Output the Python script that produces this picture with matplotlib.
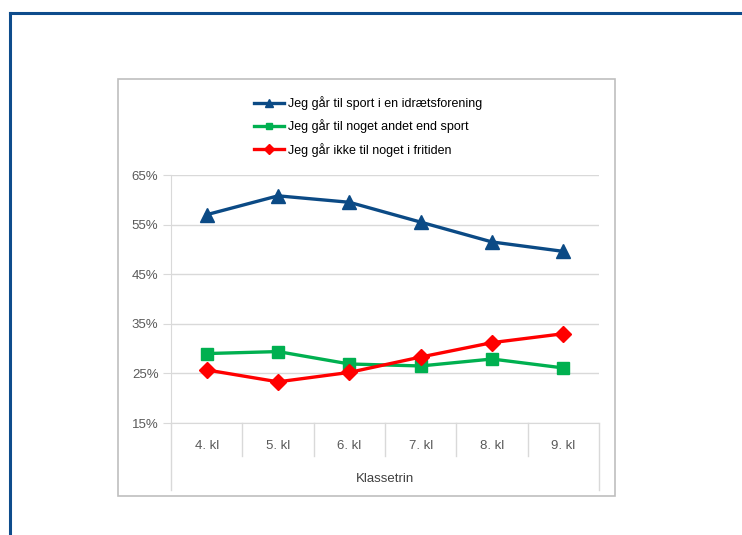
import matplotlib
matplotlib.use("Agg")
import matplotlib.pyplot as plt
from matplotlib.patches import Rectangle
from matplotlib.lines import Line2D

plt.rcParams['font.family'] = ['Liberation Sans', 'DejaVu Sans']

# data (percent)
klasser = ["4. kl", "5. kl", "6. kl", "7. kl", "8. kl", "9. kl"]
sport = [57.0, 60.8, 59.5, 55.5, 51.5, 49.6]
andet = [29.0, 29.4, 26.9, 26.5, 27.9, 26.1]
ingenting = [25.7, 23.3, 25.2, 28.3, 31.2, 33.0]
labels = ["Jeg går til sport i en idrætsforening",
          "Jeg går til noget andet end sport",
          "Jeg går ikke til noget i fritiden"]
yticks = [15, 25, 35, 45, 55, 65]

W, H = 742, 535
fig = plt.figure(figsize=(W / 100, H / 100), dpi=100)

# page frame (dark blue, top and left) and chart box
frame_col = "#0E4C8C"
fig.add_artist(Line2D([10 / W, 1], [1 - 13 / H, 1 - 13 / H], color=frame_col, lw=2.2))
fig.add_artist(Line2D([10 / W, 10 / W], [0, 1 - 13 / H], color=frame_col, lw=2.2))
fig.add_artist(Rectangle((118 / W, 1 - 496 / H), (615 - 118) / W, (496 - 79) / H,
                         fill=False, edgecolor="#BFBFBF", lw=1.2))

ax = fig.add_axes([171 / W, 1 - 423 / H, 428 / W, 248 / H])
x = list(range(len(klasser)))
ax.plot(x, sport, color="#0B4A85", lw=2.4, marker="^", ms=10)
ax.plot(x, andet, color="#00B050", lw=2.4, marker="s", ms=8)
ax.plot(x, ingenting, color="#FF0000", lw=2.4, marker="D", ms=8)

ax.set_xlim(-0.5, len(klasser) - 0.5)
ax.set_ylim(15, 65)
ax.set_yticks(yticks)
ax.set_yticklabels([f"{v}%" for v in yticks], color="#595959", fontsize=9.5)
ax.tick_params(axis="y", length=6, color="#D9D9D9", pad=3)
ax.set_xticks([])
ax.grid(axis="y", color="#D9D9D9", lw=1)
ax.set_axisbelow(True)
for s in ["top", "right"]:
    ax.spines[s].set_visible(False)
ax.spines["left"].set_color("#D9D9D9")
ax.spines["bottom"].set_color("#D9D9D9")

# category table under the plot
tr = ax.get_xaxis_transform()
ax.plot([-0.5, -0.5], [0, -0.27], transform=tr, color="#D9D9D9", lw=1, clip_on=False)
ax.plot([5.5, 5.5], [0, -0.27], transform=tr, color="#D9D9D9", lw=1, clip_on=False)
for k in range(1, len(klasser)):
    ax.plot([k - 0.5, k - 0.5], [0, -0.133], transform=tr, color="#D9D9D9", lw=1, clip_on=False)
for i, k in enumerate(klasser):
    ax.text(i, -0.093, k, transform=tr, ha="center", va="center", color="#595959", fontsize=9.5)
ax.text(2.5, -0.226, "Klassetrin", transform=tr, ha="center", va="center", color="#404040", fontsize=9.5)

h1 = Line2D([], [], color="#0B4A85", lw=2.4, marker="^", ms=6)
h2 = Line2D([], [], color="#00B050", lw=2.4, marker="s", ms=5)
h3 = Line2D([], [], color="#FF0000", lw=2.4, marker="D", ms=5)
fig.legend([h1, h2, h3], labels, loc="upper left", bbox_to_anchor=(249 / W, 1 - 91 / H),
           frameon=False, fontsize=9, handlelength=2.4, handletextpad=0.3,
           labelspacing=0.75, borderaxespad=0)

fig.savefig("out.png", dpi=100)
